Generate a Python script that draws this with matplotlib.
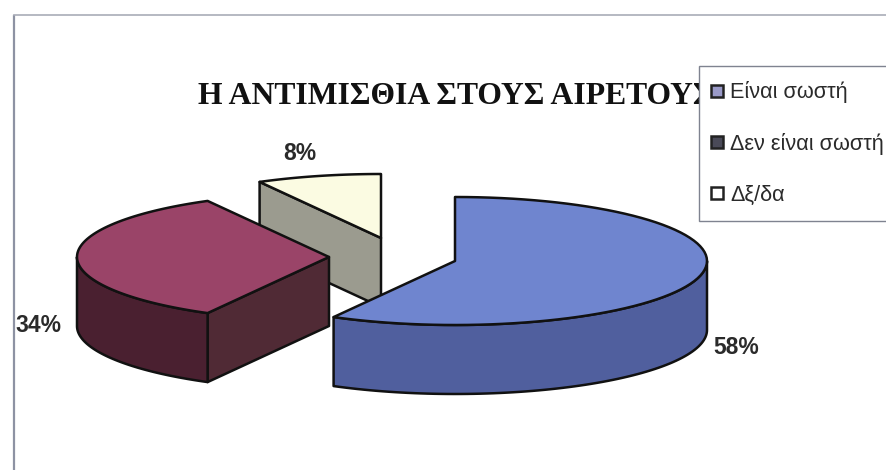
import numpy as np
import matplotlib
matplotlib.use('Agg')
import matplotlib.pyplot as plt
from matplotlib.patches import Polygon
from matplotlib.lines import Line2D

labels = ['Είναι σωστή', 'Δεν είναι σωστή', 'Δξ/δα']
values = [58, 34, 8]
title = 'Η ΑΝΤΙΜΙΣΘΙΑ ΣΤΟΥΣ ΑΙΡΕΤΟΥΣ'

# colours of each slice
top_colors = ['#6f85cf', '#9a4468', '#fbfbe2']
rim_colors = ['#505f9e', '#4a2030', '#9b9b8f']
plane_colors = ['#505f9e', '#502a35', '#9b9b8f']
legend_colors = ['#9a9ac8', '#4a4a58', '#ffffff']

# pie geometry, in pixels of the picture
rx, ry, depth = 252, 64, 69
apex = [(455, 261), (329, 257), (381, 238)]
label_pos = [(736, 347), (38, 325), (300, 153)]
draw_order = [2, 0, 1]


def ell(cx, cy, a):
    # a = degrees clockwise from 12 o'clock
    t = np.radians(a)
    return cx + rx * np.sin(t), cy - ry * np.cos(t)


def arc(cx, cy, a, b, dy=0):
    ang = np.linspace(a, b, 80)
    x, y = ell(cx, cy, ang)
    return np.column_stack([x, y + dy])


def add_poly(ax, pts, color):
    ax.add_patch(Polygon(pts, closed=True, facecolor=color, edgecolor='#111111', lw=1.8, joinstyle='round'))


fig = plt.figure(figsize=(8.86, 4.70), dpi=100)
ax = fig.add_axes([0, 0, 1, 1])
ax.set_xlim(0, 886)
ax.set_ylim(470, 0)
ax.axis('off')

# scanned frame
ax.plot([14, 14], [16, 470], color='#8d92a3', lw=1.6)
ax.plot([14, 886], [15, 15], color='#a9adb8', lw=1.2)

edges = np.concatenate([[0], np.cumsum(values)]) / sum(values) * 360
for i in draw_order:
    a, b = edges[i], edges[i + 1]
    cx, cy = apex[i]
    # flat cut faces that look towards us
    if 180 < a < 360:
        p = ell(cx, cy, a)
        add_poly(ax, [(cx, cy), p, (p[0], p[1] + depth), (cx, cy + depth)], plane_colors[i])
    if 0 < b < 180:
        p = ell(cx, cy, b)
        add_poly(ax, [(cx, cy), p, (p[0], p[1] + depth), (cx, cy + depth)], plane_colors[i])
    # front rim
    lo, hi = max(a, 90), min(b, 270)
    if lo < hi:
        rim = np.vstack([arc(cx, cy, lo, hi), arc(cx, cy, hi, lo, depth)])
        add_poly(ax, rim, rim_colors[i])
    # top face
    add_poly(ax, np.vstack([[(cx, cy)], arc(cx, cy, a, b)]), top_colors[i])

for v, (x, y) in zip(values, label_pos):
    ax.text(x, y, '%d%%' % v, ha='center', va='center', fontsize=16.5, color='#2a2a2a',
            family='Liberation Sans', fontweight='bold')

ax.text(198, 96.5, title, ha='left', va='center', fontsize=22.8, color='#111111',
        family='Liberation Serif', fontweight='bold')

handles = [Line2D([], [], linestyle='none', marker='s', markersize=9, markerfacecolor=c,
                  markeredgecolor='#222222', markeredgewidth=1.8) for c in legend_colors]
leg = ax.legend(handles, labels, loc='upper left', bbox_to_anchor=(699, 66), bbox_transform=ax.transData,
                borderaxespad=0, borderpad=0.7, labelspacing=1.38, handletextpad=0.45, handlelength=0.3,
                fancybox=False, framealpha=1, facecolor='white', edgecolor='#7f8390',
                prop={'family': 'Liberation Sans', 'size': 15.6})
leg.set_zorder(10)
for t in leg.get_texts():
    t.set_color('#2a2a2a')

fig.savefig('out.png', dpi=100)
